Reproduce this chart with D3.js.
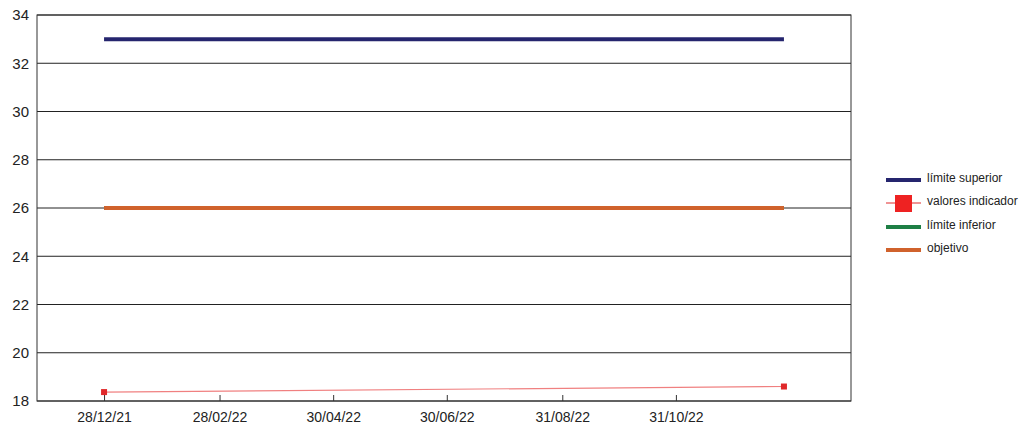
<!DOCTYPE html>
<html>
<head>
<meta charset="utf-8">
<script src="https://cdn.jsdelivr.net/npm/d3@7"></script>
<style>
  body { margin: 0; background: #fff; }
  svg { font-family: "Liberation Sans", Arial, sans-serif; }
</style>
</head>
<body>
<svg id="chart" width="1019" height="425"></svg>
<script>
// dates of the two measurements
const dates = ['28/12/21', '28/12/22'];
const limiteSuperior = [33, 33];
const valoresIndicador = [18.37, 18.6];
const limiteInferior = [26, 26];
const objetivo = [26, 26];
const xTickLabels = ['28/12/21', '28/02/22', '30/04/22', '30/06/22', '31/08/22', '31/10/22'];
const yTicks = [18, 20, 22, 24, 26, 28, 30, 32, 34];

const parse = d3.timeParse('%d/%m/%y');
const fmt = d3.timeFormat('%d/%m/%y');

const svg = d3.select('#chart');
const margin = { top: 15, left: 37, right: 168, bottom: 24 };
const width = 1019 - margin.left - margin.right,
  height = 425 - margin.top - margin.bottom;

const g = svg.append('g')
  .attr('transform', `translate(${margin.left},${margin.top})`);

const start = parse(dates[0]);
const x = d3.scaleTime()
  .domain([d3.timeDay.offset(start, -36), d3.timeDay.offset(start, 401)])
  .range([0, width]);

const y = d3.scaleLinear()
  .domain([18, 34])
  .range([height, 0]);

// gridlines
g.append('g')
  .selectAll('line')
  .data(yTicks)
  .enter()
  .append('line')
  .attr('x1', 0)
  .attr('x2', width)
  .attr('y1', (d) => y(d))
  .attr('y2', (d) => y(d))
  .attr('stroke', '#222')
  .attr('stroke-width', 1);

// frame
g.append('rect')
  .attr('width', width)
  .attr('height', height)
  .attr('fill', 'none')
  .attr('stroke', '#333')
  .attr('stroke-width', 1);

// y axis labels
const yAxis = g.append('g')
  .call(d3.axisLeft(y).tickValues(yTicks).tickSize(0).tickPadding(8));
yAxis.select('.domain').remove();
yAxis.selectAll('text')
  .attr('font-size', 15)
  .attr('fill', '#222')
  .attr('font-family', '"Liberation Sans", Arial, sans-serif');

// x axis
const xAxis = g.append('g')
  .attr('transform', `translate(0,${height})`)
  .call(d3.axisBottom(x)
    .tickValues(xTickLabels.map(parse))
    .tickFormat(fmt)
    .tickSize(-6)
    .tickPadding(11));
xAxis.select('.domain').remove();
xAxis.selectAll('line').attr('stroke', '#333');
xAxis.selectAll('text')
  .attr('font-size', 14)
  .attr('fill', '#222')
  .attr('font-family', '"Liberation Sans", Arial, sans-serif');

const line = d3.line()
  .x((d) => x(d[0]))
  .y((d) => y(d[1]));

const pts = (vals) => dates.map((d, i) => [parse(d), vals[i]]);

const series = [
  { name: 'límite superior', values: limiteSuperior, color: '#25256e', w: 4 },
  { name: 'valores indicador', values: valoresIndicador, color: '#f08080', w: 1.2, marker: '#e0282a' },
  { name: 'límite inferior', values: limiteInferior, color: '#1e7f45', w: 4 },
  { name: 'objetivo', values: objetivo, color: '#d0622c', w: 4 }
];

series.forEach((s) => {
  g.append('path')
    .datum(pts(s.values))
    .attr('d', line)
    .attr('fill', 'none')
    .attr('stroke', s.color)
    .attr('stroke-width', s.w);
  if (s.marker) {
    g.selectAll(null)
      .data(pts(s.values))
      .enter()
      .append('rect')
      .attr('x', (d) => x(d[0]) - 3)
      .attr('y', (d) => y(d[1]) - 3)
      .attr('width', 6)
      .attr('height', 6)
      .attr('fill', s.marker);
  }
});

// legend
const legendY = [180, 203, 227, 250];
const legend = svg.append('g').attr('transform', 'translate(886,0)');
series.forEach((s, i) => {
  const row = legend.append('g').attr('transform', `translate(0,${legendY[i]})`);
  if (s.marker) {
    row.append('line')
      .attr('x1', 0).attr('x2', 35)
      .attr('stroke', s.marker).attr('stroke-width', 1);
    row.append('rect')
      .attr('x', 9).attr('y', -8)
      .attr('width', 17).attr('height', 17)
      .attr('fill', '#ee2222');
  } else {
    row.append('line')
      .attr('x1', 0).attr('x2', 35)
      .attr('stroke', s.color).attr('stroke-width', 4);
  }
  row.append('text')
    .attr('x', 41)
    .attr('y', 0)
    .attr('dy', '0.15em')
    .attr('font-size', 12)
    .attr('fill', '#222')
    .text(s.name);
});
</script>
</body>
</html>
